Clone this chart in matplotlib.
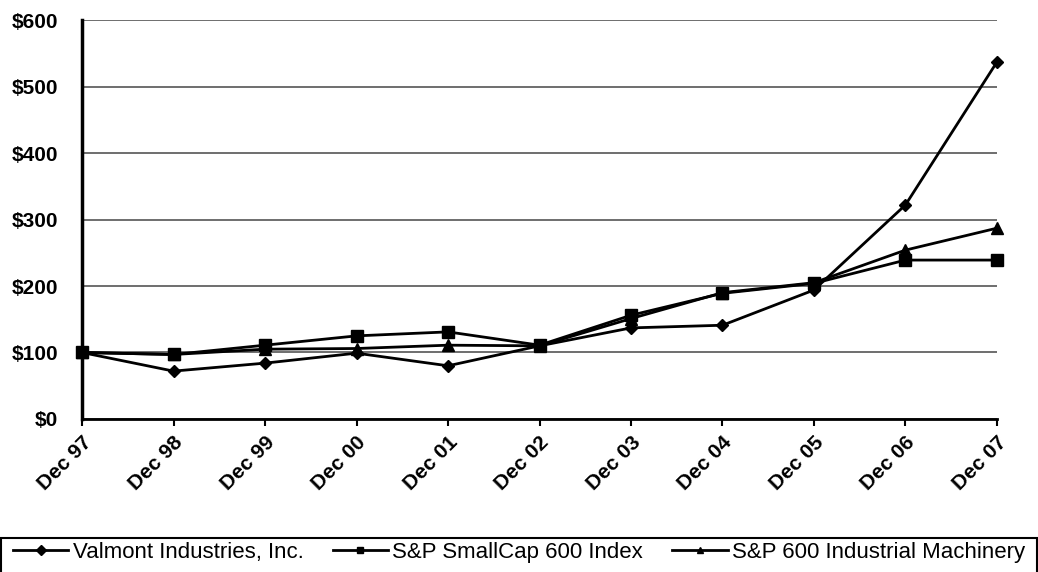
import numpy as np
import matplotlib.pyplot as plt
from matplotlib.patches import Rectangle

plt.rcParams['font.family'] = ['Liberation Sans', 'DejaVu Sans']

years = ['Dec 97', 'Dec 98', 'Dec 99', 'Dec 00', 'Dec 01', 'Dec 02',
         'Dec 03', 'Dec 04', 'Dec 05', 'Dec 06', 'Dec 07']
valmont = [100, 72, 84, 99, 80, 110, 137, 141, 194, 322, 537]
smallcap = [100, 97, 111, 125, 131, 111, 156, 189, 204, 239, 239]
machinery = [100, 97, 105, 106, 111, 110, 151, 190, 205, 254, 287]
ylabels = ['$' + str(v) for v in range(0, 601, 100)]

fig = plt.figure(figsize=(10.38, 5.72), dpi=100)
ax = fig.add_axes([0.079, 0.2675, 0.8815, 0.6975])

x = np.arange(len(years))
ax.plot(x, valmont, color='black', lw=2, marker='D', ms=6, label='Valmont Industries, Inc.')
ax.plot(x, smallcap, color='black', lw=2, marker='s', ms=9, label='S&P SmallCap 600 Index')
ax.plot(x, machinery, color='black', lw=2, marker='^', ms=8, label='S&P 600 Industrial Machinery')

ax.set_xlim(0, len(years) - 1)
ax.set_ylim(0, 600)
ax.set_yticks(range(0, 601, 100))
ax.set_yticklabels(ylabels)
ax.set_xticks(x)
ax.set_xticklabels(years, rotation=45, ha='right', rotation_mode='anchor')
ax.tick_params(labelsize=15)
for t in ax.get_xticklabels() + ax.get_yticklabels():
    t.set_fontweight('bold')
ax.yaxis.grid(True, color='#555555', lw=1.2)
ax.set_axisbelow(True)
ax.tick_params(axis='y', length=0, pad=17)
ax.tick_params(axis='x', length=5, width=1.5, direction='out', pad=5)
ax.spines['right'].set_visible(False)
ax.spines['top'].set_visible(False)
ax.spines['left'].set_linewidth(2.5)
ax.spines['bottom'].set_linewidth(2)
for s in ax.spines.values():
    s.set_zorder(5)

for ln in ax.lines:
    ln.set_clip_on(False)

leg = fig.legend(loc='center', bbox_to_anchor=(0.5, 0.034), ncol=3,
                 fontsize=16, frameon=False, handlelength=2.5, handletextpad=0.2,
                 columnspacing=1.3, borderaxespad=0)
for h in leg.legend_handles:
    h.set_markersize(5)

fig.patches.append(Rectangle((0.001, -0.01), 0.998, 0.07, transform=fig.transFigure,
                             fill=False, edgecolor='black', lw=1.5))

fig.savefig('out.png', dpi=100)
